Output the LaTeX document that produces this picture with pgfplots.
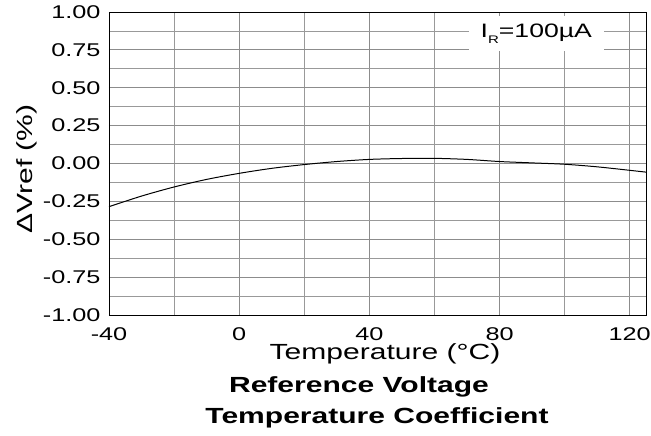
\documentclass[border=0pt]{standalone}
\usepackage{fontspec}
\setmainfont{Liberation Sans}[FakeStretch=1.37]
\usepackage{pgfplots}
\pgfplotsset{compat=1.18}
\begin{document}
\begin{tikzpicture}
\begin{axis}[
  at={(0,0)}, anchor=south west,
  scale only axis, width=537bp, height=303bp,
  xmin=-40, xmax=125, ymin=-1, ymax=1,
  xtick={-40,0,40,80,120},
  minor xtick={-20,20,60,100},
  ytick={-1,-0.75,...,1},
  minor ytick={-0.875,-0.625,-0.375,-0.125,0.125,0.375,0.625,0.875},
  grid=both,
  major grid style={color=black!45, line width=0.8pt},
  minor grid style={color=black!40, line width=0.8pt},
  major tick length=0pt, minor tick length=0pt,
  axis line style={black, line width=0.9pt},
  /pgf/number format/assume math mode=true,
  yticklabel style={/pgf/number format/fixed, /pgf/number format/precision=2, /pgf/number format/fixed zerofill, font=\fontsize{18.5}{20}\selectfont, xshift=-5bp},
  xticklabel style={font=\fontsize{18.5}{20}\selectfont, yshift=-9bp},
  scaled y ticks=false,
  clip=false,
]
\addplot[black, line width=1pt, smooth] coordinates {
(-40,-0.285) (-30,-0.215) (-20,-0.155) (-10,-0.105) (0,-0.065) (10,-0.032) (20,-0.007) (30,0.013) (40,0.027) (50,0.033) (60,0.034) (70,0.027) (80,0.013) (90,0.004) (100,-0.005) (110,-0.022) (120,-0.045) (125,-0.057)
};
\node[fill=white, inner xsep=12bp, inner ysep=8bp, font=\fontsize{19.5}{20}\selectfont] at (axis cs:91.3,0.858) {I\raisebox{-0.55ex}{\fontsize{11}{11}\selectfont R}=100µA};
\end{axis}
\node[rotate=90, font=\fontsize{22}{24}\selectfont] at (-82bp,146bp) {ΔVref (\%)};
\node[anchor=base, font=\fontsize{22}{24}\selectfont] at (276bp,-44bp) {Temperature (°C)};
\node[anchor=base, font=\fontsize{22}{24}\selectfont\bfseries] at (250bp,-77bp) {Reference Voltage};
\node[anchor=base, font=\fontsize{22}{24}\selectfont\bfseries] at (268bp,-108bp) {Temperature Coefficient};
\pgfresetboundingbox
\path[use as bounding box] (-109bp,-121bp) rectangle (542bp,315bp);
\end{tikzpicture}
\end{document}
